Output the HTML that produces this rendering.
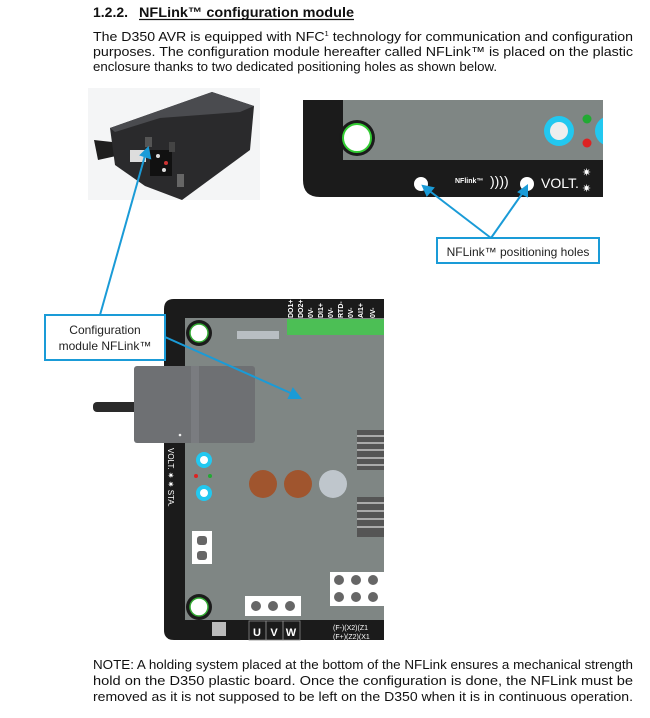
<!DOCTYPE html>
<html><head><meta charset="utf-8"><style>
html,body{margin:0;padding:0;background:#fff;}
svg{display:block;font-family:"Liberation Sans",Arial,sans-serif;}
</style></head><body>
<svg width="650" height="718" viewBox="0 0 650 718" xmlns="http://www.w3.org/2000/svg">
<defs><clipPath id="c1"><rect x="303" y="100" width="300" height="97"/></clipPath></defs>
<rect width="650" height="718" fill="#fff"/>
<!-- heading -->
<text x="93" y="17" font-size="14" font-weight="bold" fill="#111">1.2.2.</text>
<text x="139" y="17" font-size="14" font-weight="bold" fill="#111" textLength="215" lengthAdjust="spacingAndGlyphs">NFLink™ configuration module</text>
<line x1="139" y1="19.5" x2="354" y2="19.5" stroke="#111" stroke-width="1.2"/>
<g font-size="13" fill="#111">
<text x="93" y="41" textLength="540" lengthAdjust="spacingAndGlyphs">The D350 AVR is equipped with NFC<tspan font-size="7" dy="-5">1</tspan><tspan dy="5"> technology for communication and configuration</tspan></text>
<text x="93" y="56" textLength="540" lengthAdjust="spacingAndGlyphs">purposes. The configuration module hereafter called NFLink™ is placed on the plastic</text>
<text x="93" y="71" textLength="404" lengthAdjust="spacingAndGlyphs">enclosure thanks to two dedicated positioning holes as shown below.</text>
<text x="93" y="669" textLength="540" lengthAdjust="spacingAndGlyphs">NOTE: A holding system placed at the bottom of the NFLink ensures a mechanical strength</text>
<text x="93" y="685" textLength="540" lengthAdjust="spacingAndGlyphs">hold on the D350 plastic board. Once the configuration is done, the NFLink must be</text>
<text x="93" y="701" textLength="540" lengthAdjust="spacingAndGlyphs">removed as it is not supposed to be left on the D350 when it is in continuous operation.</text>
</g>

<!-- top-left photo -->
<rect x="88" y="88" width="172" height="112" fill="#f4f5f6"/>
<path d="M94 140 L130 144 L134 152 L98 160 Z" fill="#1e1e1e"/>
<path d="M110 128 L212 92 L254 106 L250 150 L182 200 L145 186 L115 165 Z" fill="#2a2a2c"/>
<path d="M110 128 L212 92 L254 106 L240 112 L160 118 L115 132 Z" fill="#4a4b4f"/>
<rect x="130" y="150" width="16" height="12" fill="#ddd"/>
<rect x="150" y="150" width="22" height="26" fill="#111"/>
<circle cx="158" cy="156" r="2" fill="#ddd"/><circle cx="166" cy="163" r="2" fill="#c33"/><circle cx="164" cy="170" r="2" fill="#ddd"/>
<rect x="145" y="137" width="7" height="10" fill="#555"/>
<rect x="177" y="174" width="7" height="13" fill="#666"/>
<rect x="169" y="142" width="6" height="10" fill="#444"/>

<!-- top-right board -->
<g clip-path="url(#c1)">
<path d="M303 100 H603 V197 H320 Q303 197 303 180 Z" fill="#1b1b1b"/>
<path d="M343 100 H603 V160 H343 Z" fill="#7f8684"/>
<circle cx="357" cy="138" r="18" fill="#1b1b1b"/>
<circle cx="357" cy="138" r="14" fill="#fff" stroke="#3c3" stroke-width="2"/>
<circle cx="559" cy="131" r="15" fill="#22c8f0"/><circle cx="559" cy="131" r="9" fill="#eee"/>
<circle cx="610" cy="131" r="15" fill="#22c8f0"/>
<circle cx="587" cy="119" r="4.5" fill="#2a3"/><circle cx="587" cy="143" r="4.5" fill="#d22"/>
<circle cx="421" cy="184" r="7" fill="#fff"/>
<circle cx="527" cy="184" r="7" fill="#fff"/>
<text x="455" y="183" font-size="7" font-weight="bold" fill="#fff">NFlink™</text>
<text x="490" y="186" font-size="14" fill="#fff">))))</text>
<text x="541" y="188" font-size="14" fill="#fff">VOLT.</text>
<text x="582" y="176" font-size="11" fill="#fff">✷</text><text x="582" y="192" font-size="11" fill="#fff">✷</text>
</g>
<rect x="437" y="238" width="162" height="25" fill="#fff" stroke="#1a9bd7" stroke-width="2"/>
<text x="518" y="256" font-size="12" fill="#222" text-anchor="middle">NFLink™ positioning holes</text>

<!-- bottom board -->
<path d="M164 309 Q164 299 174 299 H384 V640 H174 Q164 640 164 630 Z" fill="#1b1b1b"/>
<rect x="185" y="318" width="199" height="302" fill="#7f8684"/>
<circle cx="199" cy="333" r="13" fill="#1b1b1b"/><circle cx="199" cy="333" r="9" fill="#fff" stroke="#3a3" stroke-width="1.5"/>
<circle cx="199" cy="607" r="13" fill="#1b1b1b"/><circle cx="199" cy="607" r="9" fill="#fff" stroke="#3a3" stroke-width="1.5"/>
<rect x="237" y="331" width="42" height="8" fill="#b8bec2"/>
<rect x="287" y="319" width="97" height="16" fill="#4cbf55"/>
<g font-size="7" fill="#fff" font-weight="bold">
<text transform="translate(293,318) rotate(-90)">DO1+</text><text transform="translate(303,318) rotate(-90)">DO2+</text>
<text transform="translate(313,318) rotate(-90)">0V-</text><text transform="translate(323,318) rotate(-90)">DI1+</text>
<text transform="translate(333,318) rotate(-90)">0V-</text><text transform="translate(343,318) rotate(-90)">RTD-</text>
<text transform="translate(353,318) rotate(-90)">0V-</text><text transform="translate(363,318) rotate(-90)">AI1+</text>
<text transform="translate(375,318) rotate(-90)">0V-</text>
</g>
<g fill="#555"><rect x="357" y="430" width="27" height="40"/><rect x="357" y="497" width="27" height="40"/></g>
<g stroke="#ddd" stroke-width="1.2"><line x1="357" y1="436" x2="384" y2="436"/><line x1="357" y1="443" x2="384" y2="443"/><line x1="357" y1="450" x2="384" y2="450"/><line x1="357" y1="458" x2="384" y2="458"/><line x1="357" y1="465" x2="384" y2="465"/><line x1="357" y1="503" x2="384" y2="503"/><line x1="357" y1="511" x2="384" y2="511"/><line x1="357" y1="519" x2="384" y2="519"/><line x1="357" y1="527" x2="384" y2="527"/></g>
<circle cx="263" cy="484" r="14" fill="#a0552e"/><circle cx="298" cy="484" r="14" fill="#a0552e"/><circle cx="333" cy="484" r="14" fill="#bfc6cc"/>
<circle cx="204" cy="460" r="8" fill="#22c8f0"/><circle cx="204" cy="460" r="4" fill="#fff"/>
<circle cx="204" cy="493" r="8" fill="#22c8f0"/><circle cx="204" cy="493" r="4" fill="#fff"/>
<circle cx="196" cy="476" r="2" fill="#d22"/><circle cx="210" cy="476" r="2" fill="#2a3"/>
<text transform="translate(168,448) rotate(90)" font-size="8" fill="#fff">VOLT.  ✷ ✷  STA.</text>
<rect x="192" y="531" width="20" height="33" fill="#fff"/><rect x="197" y="536" width="10" height="9" rx="3" fill="#666"/><rect x="197" y="551" width="10" height="9" rx="3" fill="#666"/>
<rect x="330" y="572" width="54" height="34" fill="#fff"/>
<g fill="#666"><circle cx="339" cy="580" r="5"/><circle cx="356" cy="580" r="5"/><circle cx="373" cy="580" r="5"/><circle cx="339" cy="597" r="5"/><circle cx="356" cy="597" r="5"/><circle cx="373" cy="597" r="5"/></g>
<rect x="245" y="596" width="56" height="20" fill="#fff"/>
<g fill="#666"><circle cx="256" cy="606" r="5"/><circle cx="273" cy="606" r="5"/><circle cx="290" cy="606" r="5"/></g>
<g stroke="#888" stroke-width="0.8" fill="none"><rect x="249" y="621" width="17" height="19"/><rect x="266" y="621" width="17" height="19"/><rect x="283" y="621" width="17" height="19"/></g>
<g font-size="11" fill="#fff" font-weight="bold" text-anchor="middle"><text x="257" y="636">U</text><text x="274" y="636">V</text><text x="291" y="636">W</text></g>
<rect x="212" y="622" width="14" height="14" fill="#bbb"/>
<text x="333" y="630" font-size="7" fill="#fff">(F-)(X2)(Z1</text><text x="333" y="639" font-size="7" fill="#fff">(F+)(Z2)(X1</text>
<!-- module -->
<rect x="93" y="402" width="45" height="10" rx="4" fill="#2a2a2a"/>
<rect x="134" y="366" width="121" height="77" rx="3" fill="#6e7073"/>
<rect x="191" y="366" width="8" height="77" fill="#7a7c80"/>
<circle cx="180" cy="435" r="1.3" fill="#eee"/>

<!-- callouts -->
<rect x="45" y="315" width="120" height="45" fill="#fff" stroke="#1a9bd7" stroke-width="2"/>
<text x="105" y="334" font-size="12" fill="#222" text-anchor="middle">Configuration</text>
<text x="105" y="350" font-size="12" fill="#222" text-anchor="middle">module NFLink™</text>
<g stroke="#1a9bd7" stroke-width="2" fill="#1a9bd7">
<line x1="100" y1="315" x2="146" y2="152"/>
<line x1="165" y1="337" x2="295" y2="395"/>
<path d="M300 398 L289 398 L293 389 Z"/>
<line x1="491" y1="238" x2="427" y2="189"/><path d="M423 186 L433 188 L427 195 Z"/>
<line x1="491" y1="238" x2="524" y2="191"/><path d="M527 186 L527 196 L519 192 Z"/>
<path d="M148 148 L150 158 L141 155 Z"/>
</g>
</svg>
</body></html>
